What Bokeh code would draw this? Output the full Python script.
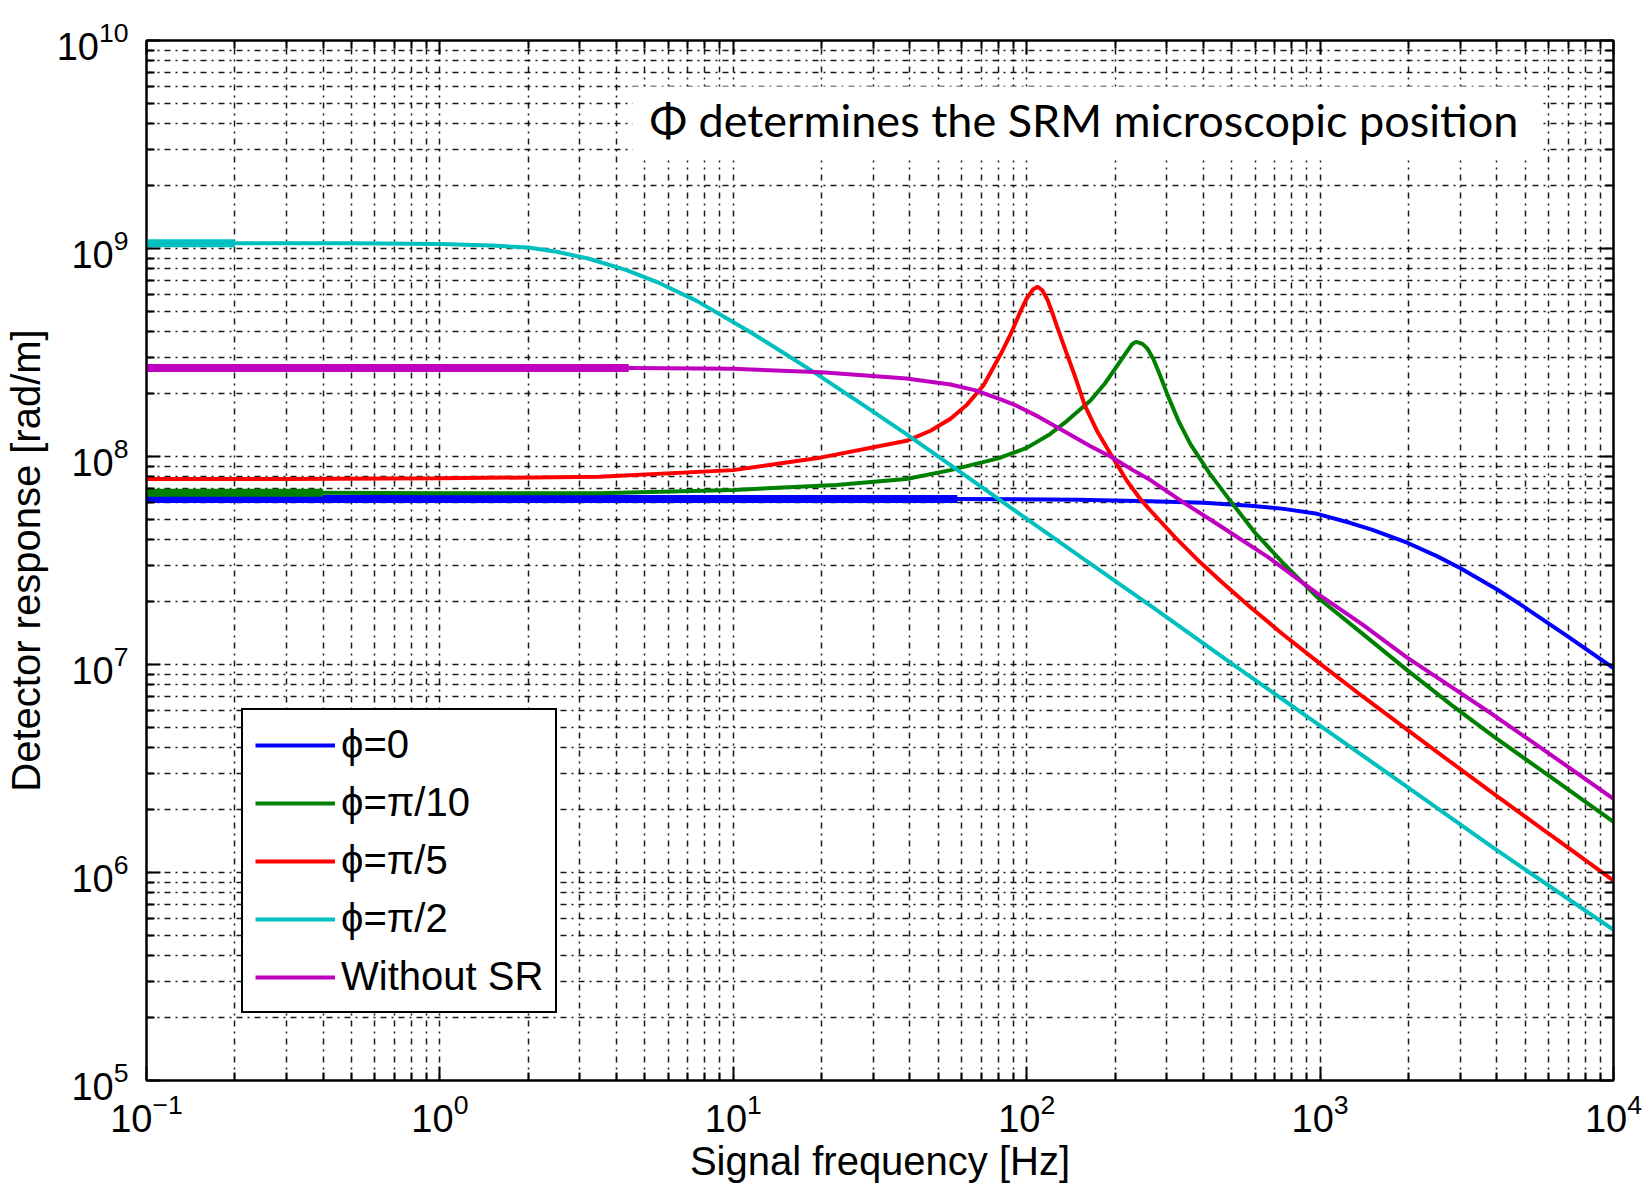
from bokeh.plotting import figure
from bokeh.models import (Range1d, FixedTicker, LogAxis, Label, Legend, LegendItem,
                          CustomJSTickFormatter, BoxAnnotation)
from bokeh.embed import file_html
from bokeh.resources import INLINE

# ---------------- data ----------------
x_ticks = [0.1, 1, 10, 100, 1000, 10000]
y_ticks = [1e5, 1e6, 1e7, 1e8, 1e9, 1e10]

series_labels = ["ϕ=0", "ϕ=π/10", "ϕ=π/5", "ϕ=π/2", "Without SR"]
series_colors = ["#0000ff", "#008000", "#ff0000", "#00bfbf", "#bf00bf"]

freq_phi0 = [0.1, 0.3, 1, 3, 10, 30, 58, 150, 264, 400, 580, 752, 977, 1263, 1500,
             1980, 2500, 3010, 4000, 4700, 6960, 10000]
resp_phi0 = [6.25e7, 6.25e7, 6.25e7, 6.25e7, 6.25e7, 6.25e7, 6.25e7, 6.2e7, 6.1e7, 6.0e7,
             5.8e7, 5.6e7, 5.3e7, 4.8e7, 4.45e7, 3.85e7, 3.32e7, 2.9e7, 2.3e7, 1.99e7,
             1.37e7, 9.6e6]

freq_phi_pi10 = [0.1, 0.4, 1, 3.5, 10, 22.4, 38.9, 55, 80, 100, 120, 137, 165, 185, 203,
                 218, 228, 233, 238, 248, 258, 270, 285, 301, 330, 361, 420, 495, 600, 752,
                 977, 1400, 1980, 2800, 3910, 6000, 10000]
resp_phi_pi10 = [6.7e7, 6.7e7, 6.65e7, 6.65e7, 6.9e7, 7.3e7, 7.8e7, 8.6e7, 9.8e7, 1.1e8,
                 1.28e8, 1.48e8, 1.86e8, 2.25e8, 2.72e8, 3.15e8, 3.45e8, 3.53e8, 3.55e8,
                 3.48e8, 3.3e8, 2.95e8, 2.45e8, 2.0e8, 1.47e8, 1.15e8, 8.3e7, 6.1e7, 4.3e7,
                 3.05e7, 2.11e7, 1.4e7, 9.4e6, 6.4e6, 4.5e6, 2.93e6, 1.75e6]

freq_phi_pi5 = [0.1, 0.3, 1, 3.5, 10, 20, 39, 47, 55, 62.7, 71.3, 81.5, 88, 95.3, 100, 105,
                109, 113, 117.5, 123, 127, 135, 145, 158, 175, 193, 220, 245, 264, 320,
                381, 470, 580, 750, 977, 1400, 1980, 2800, 3910, 6000, 10000]
resp_phi_pi5 = [7.8e7, 7.8e7, 7.85e7, 8.0e7, 8.6e7, 9.9e7, 1.19e8, 1.33e8, 1.52e8, 1.78e8,
                2.2e8, 3.1e8, 3.85e8, 5.0e8, 5.75e8, 6.35e8, 6.55e8, 6.3e8, 5.7e8, 4.8e8,
                4.2e8, 3.3e8, 2.5e8, 1.75e8, 1.3e8, 1.03e8, 7.6e7, 6.2e7, 5.5e7, 4.1e7,
                3.2e7, 2.44e7, 1.88e7, 1.39e7, 1.035e7, 7.0e6, 4.86e6, 3.38e6, 2.39e6,
                1.54e6, 9.15e5]

freq_phi_pi2 = [0.1, 0.2, 0.5, 1, 1.5, 2, 2.5, 3.2, 4.3, 5.5, 7.5, 11.3, 15, 18.7, 28, 38.9,
                55, 77, 114, 157, 264, 500, 977, 1980, 3910, 10000]
resp_phi_pi2 = [1.06e9, 1.06e9, 1.06e9, 1.05e9, 1.035e9, 1.01e9, 9.65e8, 8.95e8, 7.9e8,
                6.9e8, 5.6e8, 4.0e8, 3.12e8, 2.56e8, 1.75e8, 1.28e8, 9.1e7, 6.5e7, 4.4e7,
                3.2e7, 1.92e7, 1.01e7, 5.2e6, 2.58e6, 1.31e6, 5.3e5]

freq_no_sr = [0.1, 0.3, 1, 2, 4.4, 10, 20, 38.9, 55, 67, 81.5, 92.7, 110, 137, 165, 193,
              230, 264, 343, 450, 661, 977, 1400, 1980, 2800, 3910, 6000, 10000]
resp_no_sr = [2.66e8, 2.66e8, 2.66e8, 2.66e8, 2.66e8, 2.64e8, 2.54e8, 2.37e8, 2.22e8, 2.08e8,
              1.88e8, 1.75e8, 1.55e8, 1.3e8, 1.12e8, 1.0e8, 8.6e7, 7.7e7, 6.0e7, 4.7e7,
              3.3e7, 2.2e7, 1.55e7, 1.08e7, 7.8e6, 5.7e6, 3.75e6, 2.26e6]

series_freqs = [freq_phi0, freq_phi_pi10, freq_phi_pi5, freq_phi_pi2, freq_no_sr]
series_resps = [resp_phi0, resp_phi_pi10, resp_phi_pi5, resp_phi_pi2, resp_no_sr]
# low-frequency stretch drawn heavier in the original (dense sampling)
heavy_until = [58, 0.4, None, 0.2, 4.4]

annotation_text = "Φ determines the SRM microscopic position"

# ---------------- figure ----------------
FONT = "Liberation Sans"
x_minor = [m * t for t in x_ticks[:-1] for m in range(2, 10)]
y_minor = [m * t for t in y_ticks[:-1] for m in range(2, 10)]

p = figure(width=1645, height=1188, x_axis_type="log", y_axis_type="log",
           x_range=Range1d(x_ticks[0], x_ticks[-1]), y_range=Range1d(y_ticks[0], y_ticks[-1]),
           output_backend="svg", toolbar_location=None,
           min_border_left=146, min_border_right=32, min_border_top=40, min_border_bottom=108)
p.background_fill_color = "white"
p.border_fill_color = "white"
p.outline_line_color = "black"
p.outline_line_width = 2

def style_axis(ax):
    ax.axis_line_color = "black"
    ax.axis_line_width = 2
    ax.major_tick_in = 14
    ax.major_tick_out = 0
    ax.minor_tick_in = 8
    ax.minor_tick_out = 0
    ax.major_tick_line_color = "black"
    ax.minor_tick_line_color = "black"
    ax.major_tick_line_width = 2
    ax.minor_tick_line_width = 2
    ax.major_label_text_font = FONT
    ax.major_label_text_color = "black"
    ax.major_label_text_font_size = "38px"

p.xaxis.ticker = FixedTicker(ticks=x_ticks, minor_ticks=x_minor)
p.yaxis.ticker = FixedTicker(ticks=y_ticks, minor_ticks=y_minor)
for ax in p.xaxis + p.yaxis:
    style_axis(ax)
    ax.axis_label_text_font = FONT
    ax.axis_label_text_font_size = "40px"
    ax.axis_label_text_font_style = "normal"
    ax.axis_label_text_color = "black"
p.xaxis.axis_label = "Signal frequency [Hz]"
p.yaxis.axis_label = "Detector response [rad/m]"
p.xaxis.major_label_standoff = 12
p.yaxis.major_label_standoff = 18
p.xaxis.axis_label_standoff = 4
p.yaxis.axis_label_standoff = 6

top_ax = LogAxis(ticker=FixedTicker(ticks=x_ticks, minor_ticks=x_minor),
                 formatter=CustomJSTickFormatter(code="return ''"))
right_ax = LogAxis(ticker=FixedTicker(ticks=y_ticks, minor_ticks=y_minor),
                   formatter=CustomJSTickFormatter(code="return ''"))
style_axis(top_ax)
style_axis(right_ax)
top_ax.major_label_standoff = 0
right_ax.major_label_standoff = 0
p.add_layout(top_ax, "above")
p.add_layout(right_ax, "right")

for g in (p.xgrid, p.ygrid):
    g.grid_line_color = "black"
    g.grid_line_width = 1.5
    g.grid_line_dash = "6 5 2 5"
    g.grid_line_alpha = 0.9
    g.minor_grid_line_color = "black"
    g.minor_grid_line_width = 1.5
    g.minor_grid_line_dash = "6 5 2 5"
    g.minor_grid_line_alpha = 0.9

items = []
for f, r, lab, col, hv in zip(series_freqs, series_resps, series_labels, series_colors, heavy_until):
    rend = p.line(f, r, line_color=col, line_width=4)
    if hv is not None:
        fh = [a for a in f if a <= hv]
        rh = [b for a, b in zip(f, r) if a <= hv]
        p.line(fh, rh, line_color=col, line_width=8)
    items.append(LegendItem(label=lab, renderers=[rend]))

legend = Legend(items=items, location=(95, 67))
legend.label_text_font = FONT
legend.label_text_font_size = "40px"
legend.label_text_color = "black"
legend.glyph_width = 80
legend.glyph_height = 44
legend.label_height = 44
legend.label_standoff = 6
legend.spacing = 13
legend.padding = 12
legend.margin = 0
legend.border_line_color = "black"
legend.border_line_alpha = 1.0
legend.border_line_width = 2
legend.background_fill_color = "white"
legend.background_fill_alpha = 1.0
p.add_layout(legend, "center")

# white panel behind the note (screen units, relative to the plot frame)
note_bg = BoxAnnotation(left=486, right=1394, bottom=920, top=994,
                        left_units="screen", right_units="screen",
                        bottom_units="screen", top_units="screen",
                        fill_color="white", fill_alpha=1.0, line_color=None)
p.add_layout(note_bg)

note = Label(x=503, y=961, x_units="screen", y_units="screen", text=annotation_text,
             text_font="Lato", text_font_size="45px", text_color="black",
             text_align="left", text_baseline="middle")
p.add_layout(note)

open("out.html", "w").write(file_html(p, INLINE))
